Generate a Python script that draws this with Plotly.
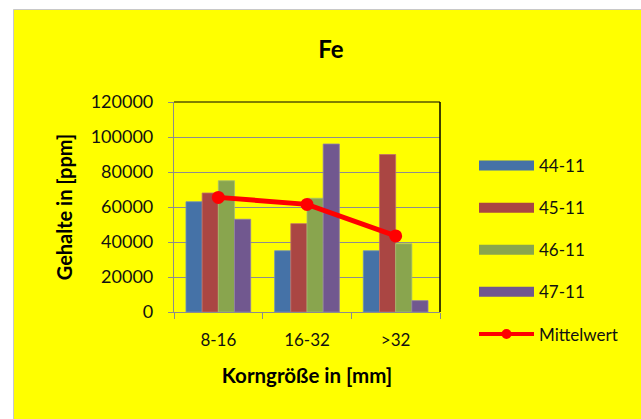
import plotly.graph_objects as go

categories = ["8-16", "16-32", ">32"]
s44 = [63000, 35000, 35000]
s45 = [68000, 50500, 90000]
s46 = [75000, 65000, 39000]
s47 = [53000, 96000, 6500]
mittelwert = [65500, 61500, 43500]
series_names = ["44-11", "45-11", "46-11", "47-11"]
colors = ["#4572A7", "#AA4643", "#89A54E", "#71588F"]
edge = ["#6E8FBD", "#C06E6B", "#A5BD72", "#9080AA"]
y_ticks = [0, 20000, 40000, 60000, 80000, 100000, 120000]

FONT = "Lato"
fig = go.Figure()
for name, vals, c, e in zip(series_names, [s44, s45, s46, s47], colors, edge):
    fig.add_trace(go.Bar(x=categories, y=vals, name=name, marker=dict(color=c, line=dict(color=e, width=0.8)),
                         showlegend=False))
fig.add_trace(go.Scatter(x=categories, y=mittelwert, name="Mittelwert", mode="lines+markers",
                         line=dict(color="#FF0000", width=5), marker=dict(color="#FF0000", size=13),
                         showlegend=False))
# legend entries
for i, (name, c) in enumerate(zip(series_names, colors)):
    fig.add_trace(go.Scatter(x=[None], y=[None], name=name, mode="lines",
                             line=dict(color=c, width=11), legendgroup="g%d" % i))
fig.add_trace(go.Scatter(x=[None], y=[None], name="Mittelwert", mode="lines+markers",
                         line=dict(color="#FF0000", width=4), marker=dict(color="#FF0000", size=10),
                         legendgroup="gm"))

L, R, T, B = 174, 201, 102, 107
W, H = 641, 419
pw, ph = W - L - R, H - T - B

def px2x(p):
    return (p - L) / pw

def py2y(p):
    return (H - B - p) / ph

fig.add_shape(type="rect", xref="paper", yref="paper", x0=px2x(13.5), x1=px2x(660), y0=py2y(9.5), y1=py2y(430),
              fillcolor="#FFFF00", line=dict(color="#C8C8C8", width=1), layer="below")
# plot area frame top and right
fig.add_shape(type="line", xref="paper", yref="paper", x0=0, x1=1, y0=1, y1=1, line=dict(color="#000000", width=1))
fig.add_shape(type="line", xref="paper", yref="paper", x0=1, x1=1, y0=0, y1=1, line=dict(color="#000000", width=1.5))

fig.update_layout(
    width=W, height=H, margin=dict(l=L, r=R, t=T, b=B),
    paper_bgcolor="#FFFFFF", plot_bgcolor="#FFFF00",
    barmode="group", bargap=0.27, bargroupgap=0,
    font=dict(family=FONT, color="#111111", size=18),
    title=dict(text="<b>Fe</b>", x=331 / W, xanchor="center", y=1 - 50 / H, yanchor="middle",
               font=dict(size=24, family=FONT, color="#000000")),
    legend=dict(x=px2x(474), y=py2y(148), xanchor="left", yanchor="top", bgcolor="rgba(0,0,0,0)",
                itemwidth=55, tracegroupgap=17, font=dict(size=17, family=FONT), itemclick=False),
    showlegend=True,
)
fig.update_xaxes(type="category", showline=True, linecolor="#8C8C8C", linewidth=1.2, ticks="outside",
                 tickson="boundaries", ticklen=6, tickcolor="#8C8C8C", showgrid=False, ticklabelstandoff=12,
                 title=dict(text="<b>Korngröße in [mm]</b>", font=dict(size=20.5, family=FONT, color="#000000"), standoff=20),
                 tickfont=dict(size=17, family=FONT))
fig.update_yaxes(range=[0, 120000], tickvals=y_ticks, ticktext=[str(v) for v in y_ticks], showline=True,
                 linecolor="#8C8C8C", linewidth=1.2, ticks="outside", ticklen=5, tickcolor="#8C8C8C",
                 showgrid=True, gridcolor="#8E8E8E", gridwidth=1.2, zeroline=False, ticklabelstandoff=11,
                 title=dict(text="<b>Gehalte in [ppm]</b>", font=dict(size=20, family=FONT, color="#000000"), standoff=12),
                 tickfont=dict(size=18, family=FONT))

fig.write_html("out.html", config={"displayModeBar": False},
               post_script="document.body.style.margin='0';document.body.style.overflow='hidden';")
